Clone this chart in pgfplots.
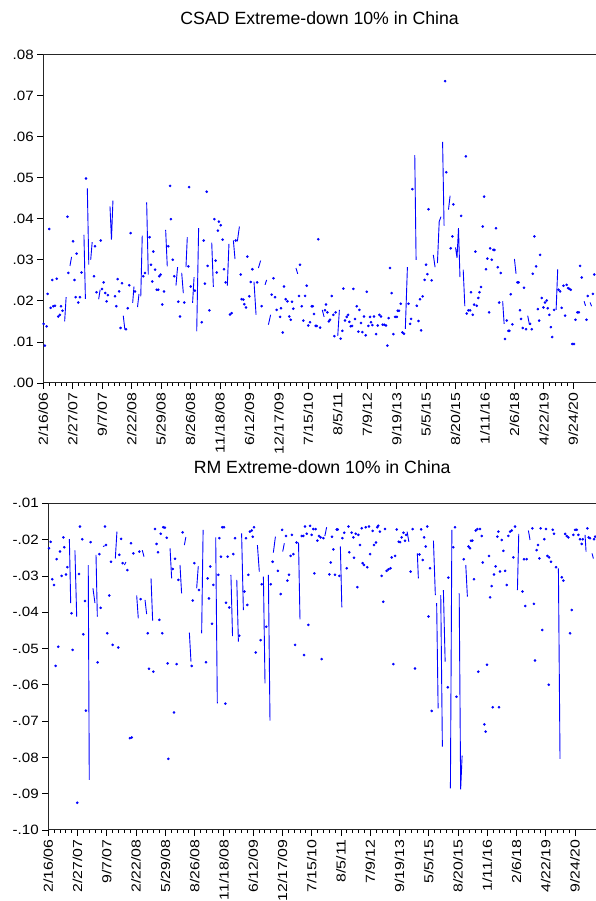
\documentclass[border=0pt]{standalone}
\usepackage{fontspec}
\setmainfont{Liberation Sans}
\newfontfamily\xtickfont[FakeStretch=1.22]{Liberation Sans}
\newfontfamily\ytickfont[FakeStretch=1.12]{Liberation Sans}
\usepackage{pgfplots}
\usepackage{pgfplotstable}
\pgfplotsset{compat=1.18}

% CSAD, isolated observations (drawn as dots)
\pgfplotstableread{
x y
0.2 .0144
1.1 .0091
2.3 .0138
2.9 .0217
4.1 .0375
5.0 .0183
6.1 .0251
6.8 .0187
7.9 .0188
9.1 .0254
10.2 .0162
11.3 .0166
12.0 .0187
13.1 .0176
16.4 .0405
17.0 .0268
20.2 .0345
21.2 .0251
22.0 .0209
22.6 .0315
23.8 .0196
24.9 .0209
26.0 .0269
29.0 .0498
34.4 .0260
35.1 .0333
36.2 .0221
39.0 .0347
39.9 .0229
41.0 .0245
42.1 .0219
43.0 .0199
43.9 .0214
48.7 .0211
49.6 .0187
50.5 .0253
51.5 .0223
52.5 .0134
53.5 .0243
56.2 .0131
57.3 .0182
58.4 .0238
59.3 .0365
62.3 .0223
67.9 .0260
69.1 .0268
72.2 .0355
73.2 .0288
74.0 .0247
74.7 .0320
75.9 .0276
77.0 .0227
78.1 .0227
78.8 .0260
79.7 .0264
80.8 .0191
82.0 .0223
84.9 .0333
86.1 .0480
86.7 .0399
87.9 .0300
89.0 .0260
91.7 .0198
92.8 .0162
95.8 .0196
98.5 .0284
99.0 .0477
100.1 .0235
103.0 .0225
107.6 .0148
108.9 .0347
109.8 .0242
111.0 .0466
111.6 .0285
112.8 .0177
116.2 .0399
117.0 .0298
117.8 .0269
118.6 .0371
119.3 .0393
120.5 .0384
121.8 .0349
122.7 .0277
123.9 .0245
126.8 .0167
127.9 .0170
130.7 .0347
134.1 .0264
134.7 .0204
135.9 .0203
136.5 .0192
137.7 .0184
138.6 .0308
139.9 .0211
140.9 .0246
142.0 .0277
145.3 .0245
148.3 .0187
155.1 .0215
156.3 .0255
157.4 .0209
158.5 .0178
160.8 .0161
161.5 .0182
162.6 .0123
163.5 .0235
164.6 .0204
165.8 .0199
167.1 .0162
168.0 .0154
168.9 .0198
169.8 .0181
173.7 .0212
174.4 .0288
175.5 .0187
176.6 .0152
177.8 .0212
178.9 .0237
180.0 .0140
181.2 .0148
182.3 .0187
183.0 .0187
183.9 .0168
185.0 .0139
185.7 .0139
186.8 .0350
188.0 .0135
191.3 .0177
192.0 .0191
193.0 .0172
193.9 .0150
194.7 .0154
195.9 .0212
197.0 .0166
197.7 .0114
198.6 .0172
202.0 .0108
203.1 .0127
203.8 .0230
204.9 .0152
206.1 .0161
207.0 .0166
207.9 .0149
208.8 .0138
209.7 .0139
210.6 .0229
211.7 .0156
212.9 .0187
214.0 .0125
214.7 .0178
215.8 .0146
216.7 .0124
217.8 .0162
219.0 .0116
219.7 .0222
220.8 .0139
221.9 .0161
222.6 .0148
223.5 .0141
224.6 .0162
226.0 .0119
227.1 .0140
228.3 .0166
229.4 .0162
230.5 .0142
231.6 .0142
232.8 .0140
233.7 .0091
234.6 .0158
235.5 .0280
236.6 .0219
237.8 .0119
238.9 .0161
240.1 .0161
240.7 .0176
241.6 .0176
242.8 .0193
243.9 .0123
245.0 .0120
248.0 .0193
249.1 .0144
249.8 .0156
250.7 .0472
253.7 .0188
254.8 .0151
255.9 .0204
256.6 .0128
257.7 .0211
259.0 .0251
260.0 .0288
260.9 .0265
261.6 .0423
263.8 .0250
272.9 .0735
273.7 .0513
276.7 .0328
277.9 .0357
278.5 .0435
283.8 .0407
287.0 .0552
287.6 .0169
288.7 .0177
289.9 .0177
290.5 .0221
291.7 .0166
292.6 .0191
293.5 .0320
294.4 .0188
295.5 .0207
296.2 .0221
297.3 .0234
298.5 .0381
299.4 .0454
300.7 .0277
301.6 .0303
302.8 .0172
303.5 .0328
304.6 .0300
305.7 .0324
306.4 .0324
307.5 .0377
308.7 .0282
309.6 .0196
310.7 .0268
313.6 .0107
314.8 .0152
315.9 .0127
316.6 .0127
317.5 .0216
318.6 .0143
322.0 .0245
322.9 .0245
323.8 .0177
324.5 .0156
325.6 .0134
326.5 .0232
327.9 .0131
330.6 .0144
331.8 .0131
332.5 .0266
333.6 .0357
334.7 .0284
335.9 .0180
336.8 .0152
337.4 .0312
338.6 .0207
339.7 .0184
340.8 .0196
341.9 .0201
342.6 .0182
343.7 .0166
344.7 .0136
345.6 .0112
346.9 .0178
349.9 .0227
351.0 .0223
352.1 .0183
353.3 .0237
354.4 .0164
355.5 .0239
356.4 .0231
357.3 .0229
358.3 .0227
359.2 .0095
360.5 .0095
361.4 .0154
362.8 .0172
363.7 .0172
364.6 .0285
365.7 .0257
368.9 .0154
369.8 .0212
373.3 .0217
374.2 .0264
}\csaddots

% CSAD, runs of consecutive observations (nan breaks the line)
\pgfplotstableread{
x y
14.5 .0150
15.5 .0209
nan nan
18.1 .0285
19.2 .0307
nan nan
27.6 .0361
28.6 .0205
nan nan
29.9 .0474
30.9 .0288
nan nan
32.2 .0300
33.2 .0343
nan nan
37.6 .0204
38.6 .0227
nan nan
45.3 .0430
46.3 .0349
47.3 .0444
nan nan
54.3 .0164
55.4 .0130
nan nan
60.7 .0195
61.6 .0235
nan nan
64.0 .0185
65.0 .0217
nan nan
66.2 .0211
67.2 .0359
nan nan
70.2 .0440
71.3 .0264
nan nan
83.1 .0373
84.2 .0284
nan nan
90.1 .0237
91.2 .0282
nan nan
94.0 .0268
95.1 .0219
nan nan
96.9 .0282
97.8 .0355
nan nan
101.4 .0195
102.4 .0258
nan nan
104.2 .0126
105.5 .0377
nan nan
114.4 .0342
115.5 .0234
nan nan
125.0 .0237
126.1 .0339
nan nan
129.1 .0347
130.2 .0302
nan nan
131.8 .0345
133.2 .0381
nan nan
143.1 .0247
144.5 .0166
nan nan
146.1 .0280
147.6 .0298
nan nan
150.6 .0239
151.7 .0251
nan nan
152.9 .0142
154.4 .0166
nan nan
171.6 .0280
172.8 .0266
nan nan
189.5 .0178
190.7 .0161
nan nan
200.0 .0115
201.1 .0178
nan nan
245.9 .0132
247.3 .0282
nan nan
252.3 .0555
253.2 .0300
nan nan
264.9 .0312
266.1 .0282
nan nan
267.7 .0292
268.9 .0393
270.1 .0405
nan nan
271.2 .0587
272.2 .0383
nan nan
275.2 .0422
276.3 .0456
nan nan
280.0 .0330
281.0 .0305
282.0 .0377
283.0 .0258
nan nan
285.2 .0276
286.3 .0187
nan nan
312.0 .0199
313.0 .0144
nan nan
320.0 .0302
321.1 .0266
nan nan
329.0 .0164
330.2 .0142
nan nan
348.3 .0178
349.4 .0277
nan nan
367.3 .0199
368.3 .0188
nan nan
371.4 .0196
372.4 .0187
}\csadlines

% RM, isolated observations
\pgfplotstableread{
x y
0.5 -.0224
1.6 -.0206
2.7 -.0309
3.9 -.0325
5.0 -.0548
5.7 -.0254
6.8 -.0495
8.0 -.0233
9.1 -.0300
10.3 -.0194
10.9 -.0221
12.1 -.0296
13.0 -.0276
15.9 -.0403
16.6 -.0504
19.8 -.0925
21.0 -.0295
21.6 -.0164
23.2 -.0199
23.9 -.0461
25.1 -.0369
25.7 -.0671
28.9 -.0207
33.7 -.0538
34.9 -.0240
35.8 -.0388
38.7 -.0164
39.4 -.0215
40.3 -.0458
41.7 -.0354
42.8 -.0261
44.0 -.0490
47.8 -.0497
48.5 -.0242
49.7 -.0198
50.8 -.0265
54.0 -.0284
55.8 -.0747
56.5 -.0210
57.0 -.0745
58.1 -.0238
62.2 -.0233
63.1 -.0364
67.9 -.0458
68.8 -.0556
71.8 -.0564
72.9 -.0171
74.0 -.0212
75.0 -.0235
75.9 -.0421
76.8 -.0184
77.9 -.0458
78.6 -.0166
79.7 -.0167
80.9 -.0195
81.6 -.0541
82.0 -.0804
85.0 -.0281
85.9 -.0676
86.6 -.0253
87.7 -.0543
88.9 -.0311
91.8 -.0180
98.0 -.0548
98.7 -.0368
99.8 -.0265
103.0 -.0339
107.8 -.0538
108.9 -.0307
109.8 -.0362
110.7 -.0274
111.9 -.0432
112.8 -.0325
116.2 -.0297
116.9 -.0196
118.0 -.0247
118.9 -.0166
120.1 -.0166
121.0 -.0652
121.4 -.0374
122.6 -.0247
123.7 -.0387
126.4 -.0240
127.6 -.0196
130.5 -.0465
134.0 -.0343
135.1 -.0196
136.0 -.0380
136.7 -.0297
137.8 -.0178
139.0 -.0175
139.7 -.0192
140.6 -.0166
141.7 -.0511
145.1 -.0477
145.8 -.0323
149.0 -.0440
152.0 -.0323
153.3 -.0261
156.9 -.0286
158.8 -.0350
159.8 -.0173
162.5 -.0190
163.4 -.0313
164.5 -.0297
165.6 -.0245
166.5 -.0187
167.5 -.0240
168.6 -.0490
169.7 -.0208
173.2 -.0190
174.3 -.0190
174.8 -.0518
175.4 -.0164
176.6 -.0184
177.7 -.0435
178.9 -.0162
180.0 -.0187
181.1 -.0171
181.8 -.0293
182.7 -.0171
183.9 -.0203
185.0 -.0190
186.1 -.0194
186.8 -.0529
188.0 -.0196
192.1 -.0296
193.0 -.0263
193.9 -.0192
194.8 -.0227
195.9 -.0297
197.1 -.0172
197.8 -.0172
198.9 -.0300
201.0 -.0196
202.2 -.0181
203.9 -.0279
205.1 -.0164
205.7 -.0235
207.3 -.0181
208.5 -.0194
208.9 -.0250
210.1 -.0184
211.2 -.0331
211.9 -.0187
213.0 -.0215
214.2 -.0169
214.8 -.0265
215.7 -.0270
216.9 -.0166
218.0 -.0276
219.2 -.0164
219.9 -.0240
221.7 -.0176
222.6 -.0215
223.9 -.0208
224.8 -.0166
225.5 -.0162
226.6 -.0178
227.8 -.0300
228.9 -.0371
230.1 -.0171
231.2 -.0286
232.4 -.0282
233.9 -.0279
234.7 -.0249
235.8 -.0543
237.0 -.0245
238.1 -.0172
239.5 -.0206
240.4 -.0207
241.5 -.0194
242.7 -.0181
243.8 -.0203
244.5 -.0187
247.6 -.0288
249.0 -.0171
250.6 -.0555
253.6 -.0241
254.8 -.0172
255.9 -.0256
256.8 -.0194
257.9 -.0219
259.0 -.0164
259.8 -.0412
260.9 -.0279
262.0 -.0672
273.0 -.0607
273.4 -.0305
276.8 -.0221
278.0 -.0166
278.9 -.0633
283.9 -.0254
287.1 -.0219
288.2 -.0224
288.9 -.0203
289.8 -.0203
290.9 -.0309
292.1 -.0175
293.2 -.0171
293.9 -.0564
295.0 -.0171
296.2 -.0190
296.9 -.0263
298.0 -.0709
298.9 -.0729
299.8 -.0545
301.2 -.0245
301.9 -.0359
303.0 -.0328
303.7 -.0662
304.6 -.0296
305.7 -.0274
306.9 -.0192
307.6 -.0178
308.0 -.0662
308.7 -.0288
309.9 -.0201
311.0 -.0231
312.2 -.0286
313.3 -.0325
314.4 -.0190
315.6 -.0178
316.7 -.0175
317.8 -.0249
319.0 -.0164
324.0 -.0343
325.1 -.0254
326.0 -.0383
326.9 -.0254
330.8 -.0169
331.9 -.0377
332.6 -.0533
333.7 -.0229
334.7 -.0215
335.6 -.0252
336.5 -.0169
337.6 -.0449
339.0 -.0199
340.1 -.0171
341.1 -.0245
342.0 -.0600
342.2 -.0249
343.6 -.0261
344.7 -.0173
345.6 -.0184
347.0 -.0276
350.9 -.0304
352.0 -.0313
353.2 -.0184
354.3 -.0190
355.4 -.0194
356.6 -.0458
357.7 -.0394
358.8 -.0187
360.0 -.0173
361.1 -.0173
362.3 -.0187
363.4 -.0199
364.5 -.0212
365.2 -.0199
368.4 -.0169
369.3 -.0194
370.2 -.0196
373.0 -.0199
373.7 -.0192
}\rmdots

% RM, runs of consecutive observations
\pgfplotstableread{
x y
14.4 -.0199
15.3 -.0375
nan nan
18.2 -.0230
19.4 -.0412
nan nan
27.3 -.0270
28.0 -.0862
nan nan
30.5 -.0334
31.9 -.0375
nan nan
32.6 -.0242
33.5 -.0412
nan nan
37.4 -.0219
38.5 -.0217
nan nan
45.8 -.0252
46.9 -.0178
nan nan
52.0 -.0270
53.0 -.0262
nan nan
60.4 -.0354
61.5 -.0417
nan nan
64.2 -.0229
65.4 -.0247
nan nan
66.1 -.0366
67.2 -.0405
nan nan
70.2 -.0307
71.3 -.0423
nan nan
83.2 -.0224
84.3 -.0307
nan nan
90.0 -.0270
91.1 -.0348
nan nan
93.0 -.0215
94.0 -.0193
nan nan
96.4 -.0456
97.5 -.0536
nan nan
101.4 -.0334
102.5 -.0273
nan nan
104.8 -.0458
105.8 -.0173
nan nan
114.4 -.0194
115.5 -.0651
nan nan
124.8 -.0297
125.9 -.0466
nan nan
128.8 -.0311
129.9 -.0481
nan nan
132.1 -.0183
133.3 -.0394
nan nan
142.9 -.0215
144.2 -.0288
nan nan
147.0 -.0302
148.1 -.0596
nan nan
150.4 -.0297
151.5 -.0699
nan nan
153.8 -.0236
155.2 -.0192
nan nan
160.2 -.0233
161.3 -.0210
nan nan
171.0 -.0208
172.0 -.0420
nan nan
189.0 -.0190
190.2 -.0166
nan nan
199.6 -.0219
200.6 -.0387
nan nan
245.2 -.0178
246.4 -.0206
nan nan
252.2 -.0238
252.9 -.0307
nan nan
263.2 -.0203
264.5 -.0353
nan nan
265.4 -.0375
266.4 -.0665
nan nan
268.2 -.0353
269.3 -.0770
nan nan
270.0 -.0339
271.2 -.0536
nan nan
274.8 -.0885
275.8 -.0173
nan nan
280.8 -.0348
281.8 -.0888
282.8 -.0795
nan nan
285.3 -.0270
286.4 -.0357
nan nan
320.6 -.0339
321.5 -.0184
nan nan
328.1 -.0175
329.2 -.0201
nan nan
348.6 -.0279
349.7 -.0804
nan nan
366.8 -.0187
367.5 -.0233
nan nan
371.6 -.0238
372.5 -.0252
}\rmlines

\definecolor{evblue}{RGB}{0,0,255}

\pgfplotsset{
  evstyle/.style={
    scale only axis,
    anchor=south west,
    xmin=0,
    xtick={0,20,40,60,80,100,120,140,160,180,200,220,240,260,280,300,320,340,360},
    xticklabels={2/16/06,2/27/07,9/7/07,2/22/08,5/29/08,8/26/08,11/18/08,6/12/09,12/17/09,7/15/10,8/5/11,7/9/12,9/19/13,5/5/15,8/20/15,1/11/16,2/6/18,4/22/19,9/24/20},
    minor x tick num=4,
    tick pos=left,
    tick align=outside,
    major tick length=6pt,
    minor tick length=3pt,
    tick style={black, line width=0.8pt},
    axis line style={black!85, line width=1pt},
    scaled y ticks=false,
    y tick label style={font=\ytickfont\fontsize{13.5}{16}\selectfont},
    x tick label style={font=\xtickfont\fontsize{13}{15}\selectfont, rotate=90, anchor=east},
    title style={font=\fontsize{17.7}{21}\selectfont, anchor=base, at={(0.5,1)}, yshift=24pt},
    unbounded coords=jump,
  },
  evline/.style={evblue, line width=0.9pt, no marks},
  evdot/.style={only marks, mark=*, mark size=1.1pt, mark options={draw=evblue, fill=evblue}},
}

\begin{document}
\begin{tikzpicture}
\useasboundingbox (0,0) rectangle (595pt,901pt);

\begin{axis}[evstyle,
  at={(43.3pt,518pt)}, width=552.7pt, height=328.5pt,
  xmax=375.4, ymin=0, ymax=0.08,
  ytick={0,0.01,0.02,0.03,0.04,0.05,0.06,0.07,0.08},
  yticklabels={.00,.01,.02,.03,.04,.05,.06,.07,.08},
  title={CSAD Extreme-down 10\% in China},
]
  \addplot[evline] table[x=x, y=y] {\csadlines};
  \addplot[evdot] table[x=x, y=y] {\csaddots};
\end{axis}

\begin{axis}[evstyle,
  at={(48.3pt,71pt)}, width=547.7pt, height=326.7pt,
  xmax=374.3, ymin=-0.10, ymax=-0.01,
  ytick={-0.10,-0.09,-0.08,-0.07,-0.06,-0.05,-0.04,-0.03,-0.02,-0.01},
  yticklabels={-.10,-.09,-.08,-.07,-.06,-.05,-.04,-.03,-.02,-.01},
  title={RM Extreme-down 10\% in China},
]
  \addplot[evline] table[x=x, y=y] {\rmlines};
  \addplot[evdot] table[x=x, y=y] {\rmdots};
\end{axis}
\end{tikzpicture}
\end{document}
